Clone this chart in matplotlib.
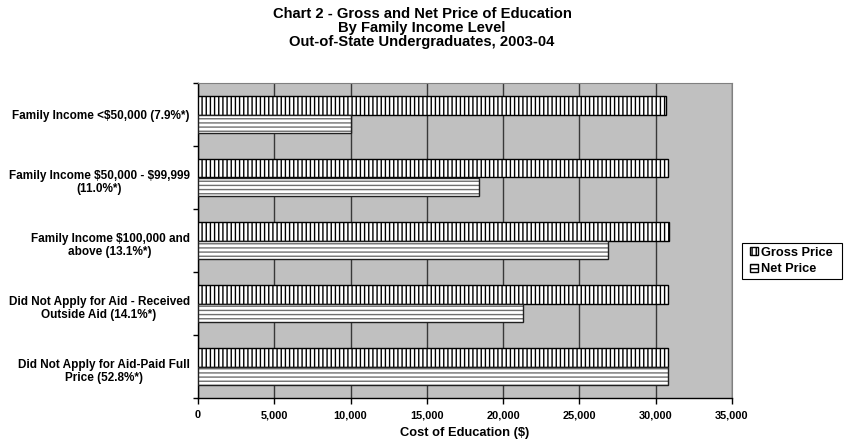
import matplotlib
matplotlib.use("Agg")
import matplotlib.pyplot as plt
from matplotlib import font_manager as fm
from matplotlib import transforms as mtransforms
import numpy as np
from matplotlib.patches import Patch, Rectangle

# Regular-width Arial-metric bold face
bold_path = None
for p in fm.findSystemFonts():
    if p.endswith("LiberationSans-Bold.ttf"):
        bold_path = p
        break


def fp(size):
    if bold_path:
        return fm.FontProperties(fname=bold_path, size=size)
    return fm.FontProperties(family='DejaVu Sans', weight='bold', size=size)


plt.rcParams['hatch.linewidth'] = 1.0

title_lines = [
    "Chart 2 - Gross and Net Price of Education",
    "By Family Income Level",
    "Out-of-State Undergraduates, 2003-04",
]
categories = [
    "Family Income <\\$50,000 (7.9%*)",
    "Family Income \\$50,000 - \\$99,999\n(11.0%*)",
    "Family Income \\$100,000 and\nabove (13.1%*)",
    "Did Not Apply for Aid - Received\nOutside Aid (14.1%*)",
    "Did Not Apply for Aid-Paid Full\nPrice (52.8%*)",
]
series_names = ["Gross Price", "Net Price"]
gross_price = [30700, 30800, 30900, 30800, 30800]
net_price = [10000, 18400, 26900, 21300, 30800]
x_ticks = [0, 5000, 10000, 15000, 20000, 25000, 30000, 35000]

W, H = 844, 442
fig = plt.figure(figsize=(W / 100, H / 100), dpi=100)
ax = fig.add_axes([198 / W, 1 - 398 / H, (732 - 198) / W, (398 - 83) / H])
ax.set_facecolor('#C0C0C0')

y = np.arange(len(categories))
h = 0.286

# Gross price: vertical stripes
ax.barh(y - h / 2, gross_price, height=h, color='white', edgecolor='black',
        hatch='||||', linewidth=1.0, zorder=3)
# Net price: grey horizontal stripes with a dark outline
ax.barh(y + h / 2, net_price, height=h, color='white', edgecolor='#707070',
        hatch='----', linewidth=0, zorder=3)
ax.barh(y + h / 2, net_price, height=h, fill=False, edgecolor='#202020',
        linewidth=1.0, zorder=4)

ax.set_xlim(0, 35000)
ax.set_ylim(len(categories) - 0.5, -0.5)

ax.set_xticks(x_ticks)
ax.set_xticklabels([f"{v:,}" for v in x_ticks], fontproperties=fp(7.9))
ax.tick_params(axis='x', direction='out', length=4, width=1, color='black', pad=5)

ax.set_yticks(y)
ax.set_yticklabels(categories, fontproperties=fp(8.5), multialignment='center',
                   linespacing=1.1)
ax.tick_params(axis='y', which='major', length=0, pad=6)
ax.set_yticks(np.arange(len(categories) + 1) - 0.5, minor=True)
ax.tick_params(axis='y', which='minor', direction='out', length=3.5, width=1, color='black')

# two-line category labels sit slightly below the category centre
shift = mtransforms.ScaledTranslation(0, -3 / 100, fig.dpi_scale_trans)
for lab in ax.get_yticklabels():
    if "\n" in lab.get_text():
        lab.set_transform(lab.get_transform() + shift)

ax.xaxis.grid(True, color='#383838', linewidth=1.0, zorder=1)
ax.set_axisbelow(True)

for side in ('left', 'bottom'):
    ax.spines[side].set_color('black')
    ax.spines[side].set_linewidth(1.0)
ax.spines['top'].set_color('#808080')
ax.spines['right'].set_color('#808080')

ax.set_xlabel("Cost of Education ($)", fontproperties=fp(9.3), labelpad=5)

for i, line in enumerate(title_lines):
    fig.text(0.5, 1 - (14 + 14 * i) / H, line, ha='center', va='center',
             fontproperties=fp(10.6))

# legend with its own frame
fig.patches.append(Rectangle((742 / W, 1 - 279 / H), (842 - 742) / W, 36 / H,
                             transform=fig.transFigure, facecolor='white',
                             edgecolor='black', linewidth=0.8, zorder=5))
handles = [
    Patch(facecolor='white', edgecolor='black', hatch='||||', label=series_names[0]),
    Patch(facecolor='white', edgecolor='black', hatch='----', label=series_names[1]),
]
leg = fig.legend(handles=handles, loc='center left', bbox_to_anchor=(750 / W, 1 - 261 / H),
                 prop=fp(9.2), frameon=False,
                 handlelength=0.6, handleheight=0.6, handletextpad=0.25,
                 borderpad=0.0, labelspacing=0.35, borderaxespad=0)
leg.set_zorder(6)

fig.savefig("out.png", dpi=100)
